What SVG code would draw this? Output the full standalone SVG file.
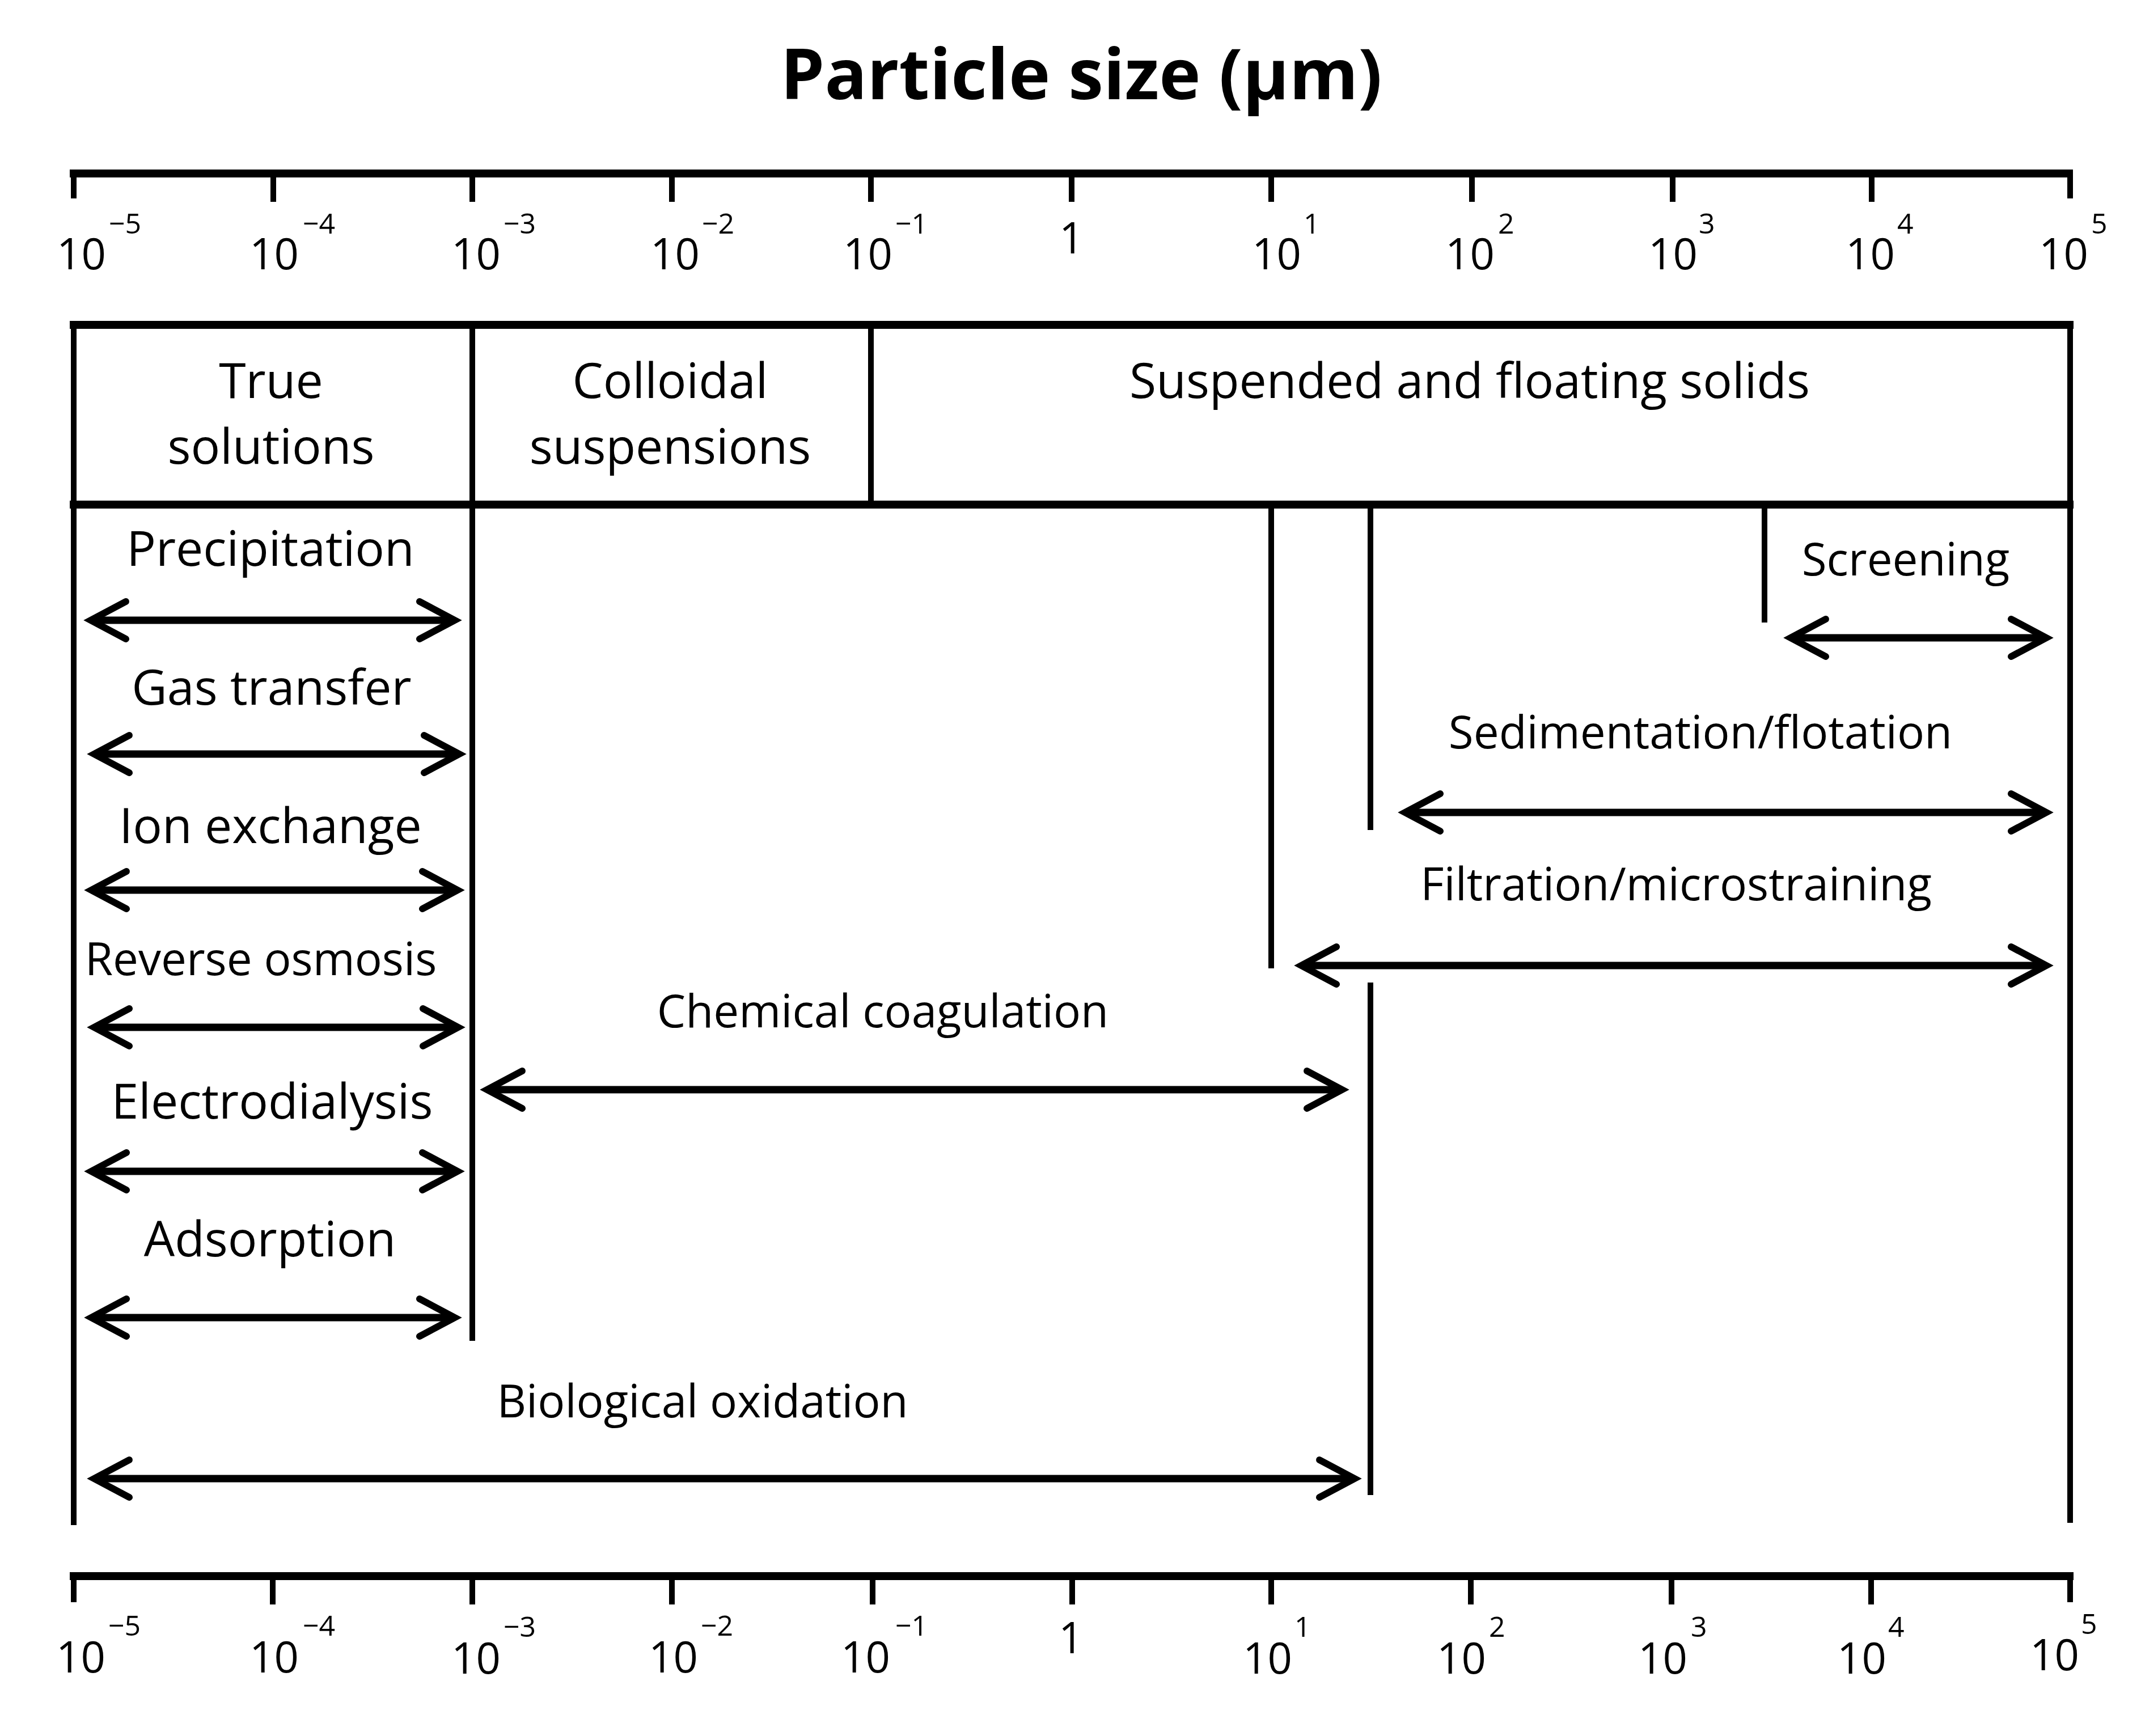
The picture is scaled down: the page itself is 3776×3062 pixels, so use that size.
<svg xmlns="http://www.w3.org/2000/svg" width="3776" height="3062" viewBox="0 0 3776 3062">
<style>
text{font-family:"Open Sans","Liberation Sans",sans-serif;fill:#000}
.title{font-size:124px;font-weight:700}
.hdr{font-size:86px}
.lblA{font-size:86px}
.lblB{font-size:80px}
.num{font-size:76px}
.sup{font-size:50px}
.thick{stroke:#000;stroke-width:14;fill:none}
.vl{stroke:#000;stroke-width:10;fill:none}
.tk{stroke:#000;stroke-width:10;fill:none}
.arr{stroke:#000;stroke-width:13;fill:none;marker-start:url(#head);marker-end:url(#head)}
</style>
<defs>
<marker id="head" markerUnits="userSpaceOnUse" viewBox="-80 -45 100 90" refX="0" refY="0" markerWidth="100" markerHeight="90" orient="auto-start-reverse">
<path d="M-62,-33 L0,0 L-62,33" fill="none" stroke="#000" stroke-width="12" stroke-linecap="round" stroke-linejoin="miter" stroke-miterlimit="10"/>
</marker>
</defs>
<rect width="3776" height="3062" fill="#fff"/>
<g id="title"><text class="title" x="1907" y="175" text-anchor="middle">Particle size (µm)</text></g>

<g id="axis-top">
<path class="thick" d="M123,306 H3656"/>
<path class="tk" d="M130,299 V350 M3651,299 V350 M482,306 V356 M833,306 V356 M1185,306 V356 M1536,306 V356 M1890,306 V356 M2242,306 V356 M2596,306 V356 M2950,306 V356 M3301,306 V356"/>
<text class="num" x="100" y="475">10</text><text class="sup" x="192" y="412">−5</text>
<text class="num" x="440" y="475">10</text><text class="sup" x="534" y="412">−4</text>
<text class="num" x="796" y="475">10</text><text class="sup" x="888" y="412">−3</text>
<text class="num" x="1147" y="475">10</text><text class="sup" x="1238" y="412">−2</text>
<text class="num" x="1487" y="475">10</text><text class="sup" x="1579" y="412">−1</text>
<text class="num" x="1868" y="447">1</text>
<text class="num" x="2208" y="475">10</text><text class="sup" x="2299" y="412">1</text>
<text class="num" x="2549" y="475">10</text><text class="sup" x="2642" y="412">2</text>
<text class="num" x="2907" y="475">10</text><text class="sup" x="2996" y="412">3</text>
<text class="num" x="3255" y="475">10</text><text class="sup" x="3346" y="412">4</text>
<text class="num" x="3596" y="475">10</text><text class="sup" x="3688" y="412">5</text>
</g>

<g id="header">
<path class="thick" d="M123,573 H3657 M123,890 H3657"/>
<path class="vl" d="M833,566 V897 M1536,566 V897"/>
</g>
<g id="true-solutions"><text class="hdr" x="478" y="702" text-anchor="middle">True</text><text class="hdr" x="478" y="818" text-anchor="middle">solutions</text></g>
<g id="colloidal-suspensions"><text class="hdr" x="1182" y="702" text-anchor="middle">Colloidal</text><text class="hdr" x="1182" y="818" text-anchor="middle">suspensions</text></g>
<g id="suspended-solids"><text class="hdr" x="2592" y="702" text-anchor="middle">Suspended and floating solids</text></g>

<g id="boundaries">
<path class="vl" d="M130,566 V2690 M3651,566 V2686 M833,890 V2365 M2242,890 V1708 M2417,890 V1464 M2417,1733 V2637 M3112,890 V1098"/>
</g>

<g id="precipitation"><text class="lblA" x="477" y="998" text-anchor="middle">Precipitation</text></g>
<g id="gas-transfer"><text class="lblA" x="479" y="1243" text-anchor="middle">Gas transfer</text></g>
<g id="ion-exchange"><text class="lblA" x="477" y="1487" text-anchor="middle">Ion exchange</text></g>
<g id="reverse-osmosis"><text class="lblB" x="460" y="1720" text-anchor="middle">Reverse osmosis</text></g>
<g id="electrodialysis"><text class="lblA" x="480" y="1973" text-anchor="middle">Electrodialysis</text></g>
<g id="adsorption"><text class="lblA" x="476" y="2216" text-anchor="middle">Adsorption</text></g>
<g id="chemical-coagulation"><text class="lblB" x="1557" y="1812" text-anchor="middle">Chemical coagulation</text></g>
<g id="biological-oxidation"><text class="lblB" x="1239" y="2500" text-anchor="middle">Biological oxidation</text></g>
<g id="screening"><text class="lblB" x="3361" y="1015" text-anchor="middle">Screening</text></g>
<g id="sedimentation-flotation"><text class="lblB" x="2999" y="1320" text-anchor="middle">Sedimentation/flotation</text></g>
<g id="filtration-microstraining"><text class="lblB" x="2956" y="1588" text-anchor="middle">Filtration/microstraining</text></g>

<g id="connectors">
<path class="arr" d="M160,1094 H802"/>
<path class="arr" d="M166,1330 H810"/>
<path class="arr" d="M161,1570 H807"/>
<path class="arr" d="M166,1812 H808"/>
<path class="arr" d="M161,2066 H807"/>
<path class="arr" d="M161,2324 H802"/>
<path class="arr" d="M859,1922 H2367"/>
<path class="arr" d="M166,2608 H2389"/>
<path class="arr" d="M3158,1125 H3609"/>
<path class="arr" d="M2478,1433 H3609"/>
<path class="arr" d="M2295,1703 H3609"/>
</g>

<g id="axis-bottom">
<path class="thick" d="M123,2780 H3657"/>
<path class="tk" d="M130,2773 V2826 M3651,2773 V2826 M481,2780 V2830 M833,2780 V2830 M1185,2780 V2830 M1539,2780 V2830 M1891,2780 V2830 M2242,2780 V2830 M2594,2780 V2830 M2948,2780 V2830 M3300,2780 V2830"/>
<text class="num" x="99" y="2950">10</text><text class="sup" x="191" y="2885">−5</text>
<text class="num" x="440" y="2950">10</text><text class="sup" x="534" y="2885">−4</text>
<text class="num" x="796" y="2952">10</text><text class="sup" x="888" y="2887">−3</text>
<text class="num" x="1144" y="2950">10</text><text class="sup" x="1236" y="2885">−2</text>
<text class="num" x="1483" y="2950">10</text><text class="sup" x="1579" y="2885">−1</text>
<text class="num" x="1867" y="2916">1</text>
<text class="num" x="2192" y="2952">10</text><text class="sup" x="2283" y="2887">1</text>
<text class="num" x="2534" y="2952">10</text><text class="sup" x="2626" y="2887">2</text>
<text class="num" x="2889" y="2952">10</text><text class="sup" x="2982" y="2887">3</text>
<text class="num" x="3240" y="2952">10</text><text class="sup" x="3330" y="2887">4</text>
<text class="num" x="3580" y="2946">10</text><text class="sup" x="3670" y="2882">5</text>
</g>
</svg>
